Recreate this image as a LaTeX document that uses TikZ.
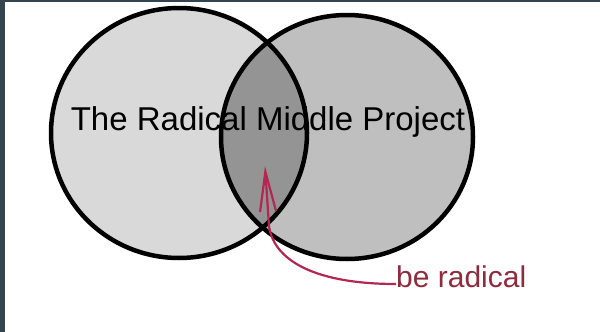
\documentclass[tikz,border=0pt]{standalone}
\usepackage{fontspec}
\setmainfont{Liberation Sans}
\usetikzlibrary{arrows.meta}

\definecolor{framegray}{RGB}{53,69,79}
\definecolor{arrowred}{RGB}{178,40,82}
\definecolor{labelred}{RGB}{140,44,62}

\begin{document}
\begin{tikzpicture}[
    x=1pt, y=-1pt,
    % Estilo para el contorno de los circulos
    setline/.style={
        draw=black,
        line width=4.5pt,
        line join=round
    },
    % Estilo para el texto central
    titletext/.style={
        font=\fontsize{33}{38}\selectfont,
        text=black,
        inner sep=0pt
    },
    % Estilo para la etiqueta roja
    labeltext/.style={
        font=\fontsize{30}{34}\selectfont,
        text=labelred,
        inner sep=0pt
    },
    % Estilo para la flecha roja
    pointer/.style={
        draw=arrowred,
        line width=2.2pt,
        -{Straight Barb[length=40pt, width=16pt, line width=2.2pt]}
    }
]

    % ==========================================
    % FONDO Y MARCO
    % ==========================================
    \useasboundingbox (0,0) rectangle (600,332);
    \fill[white] (0,0) rectangle (600,332);
    \fill[framegray] (0,0) rectangle (5,332);
    \fill[framegray] (0,0) rectangle (600,2);

    % ==========================================
    % CONJUNTOS
    % ==========================================
    \coordinate (lc) at (179,133);
    \coordinate (rc) at (347,137);

    \fill[black!15] (lc) ellipse [x radius=128, y radius=125];
    \fill[black!25] (rc) ellipse [x radius=126, y radius=122];

    % Interseccion (mas oscura)
    \begin{scope}
        \clip (lc) ellipse [x radius=128, y radius=125];
        \fill[black!42] (rc) ellipse [x radius=126, y radius=122];
    \end{scope}

    \draw[setline] (lc) ellipse [x radius=128, y radius=125];
    \draw[setline] (rc) ellipse [x radius=126, y radius=122];

    % ==========================================
    % TEXTOS
    % ==========================================
    \node[titletext, anchor=base] (title) at (268,130) {The Radical Middle Project};
    \node[labeltext, anchor=base west] (radical) at (396,287) {be radical};

    % ==========================================
    % FLECHA
    % ==========================================
    \coordinate (tip) at (265,166);
    \draw[pointer] ([yshift=3pt]radical.base west)
        .. controls (318,284) and (274,262) .. (269,226) -- (tip);

\end{tikzpicture}
\end{document}
